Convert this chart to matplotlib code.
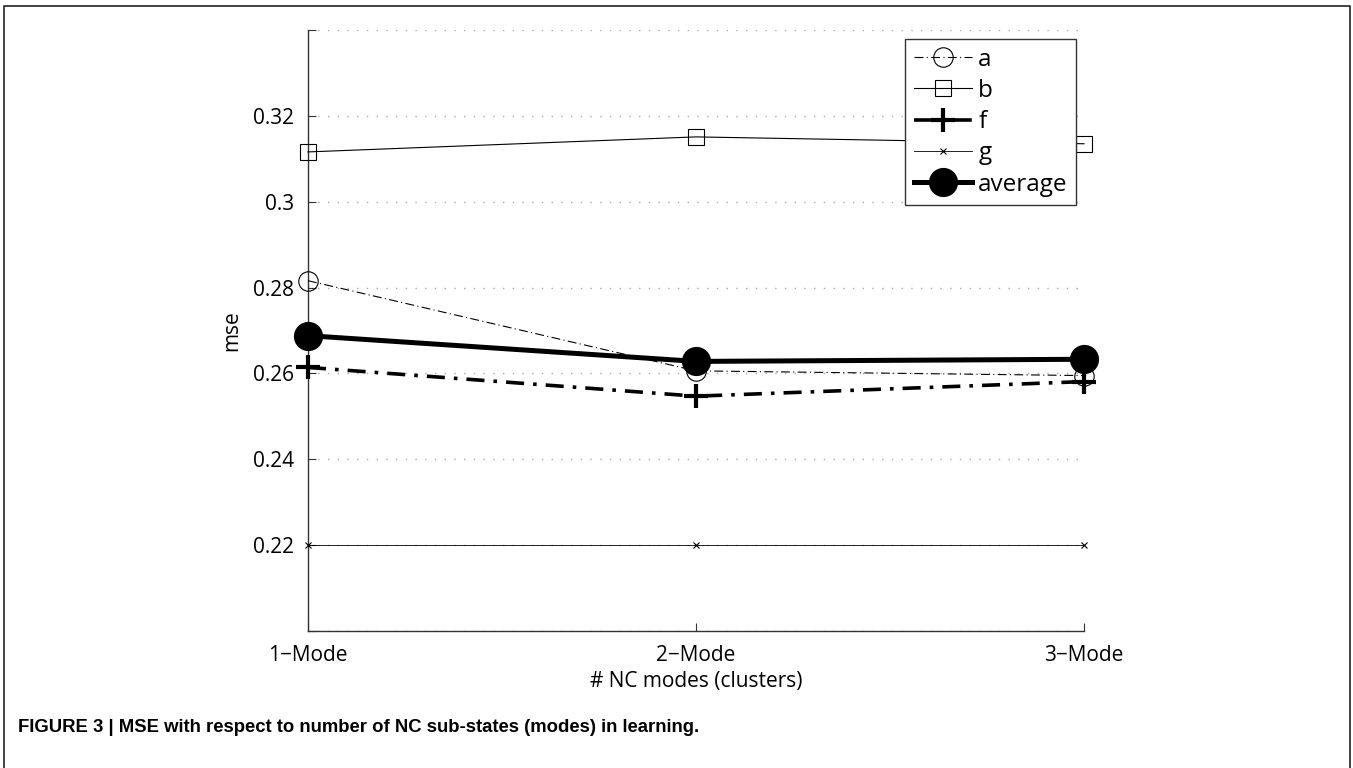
import matplotlib
matplotlib.use("Agg")
import matplotlib.pyplot as plt
from matplotlib.lines import Line2D

categories = ["1\u2212Mode", "2\u2212Mode", "3\u2212Mode"]
a_vals = [0.2816, 0.2606, 0.2595]
b_vals = [0.3116, 0.3151, 0.3135]
f_vals = [0.2614, 0.2547, 0.2581]
g_vals = [0.2201, 0.2201, 0.2201]
avg_vals = [0.2688, 0.2628, 0.2633]
ytick_vals = [0.20, 0.22, 0.24, 0.26, 0.28, 0.30, 0.32, 0.34]
ytick_labels = ["", "0.22", "0.24", "0.26", "0.28", "0.3", "0.32", ""]

plt.rcParams['font.family'] = ['Open Sans', 'DejaVu Sans']

fig = plt.figure(figsize=(13.53, 7.68), dpi=100)
ax = fig.add_axes([308/1353, 1-631/768, (1084-308)/1353, (631-30)/768])

x = [1, 2, 3]
ax.plot(x, a_vals, color='black', lw=0.8, ls=(0, (8, 3, 1, 3)), marker='o', ms=14,
        mfc='none', mec='black', mew=0.8, label='a', clip_on=False, zorder=3)
ax.plot(x, b_vals, color='black', lw=0.8, ls='-', marker='s', ms=12,
        mfc='none', mec='black', mew=0.8, label='b', clip_on=False, zorder=3)
ax.plot(x, f_vals, color='black', lw=2.6, ls=(0, (5, 2.5, 1, 2.5)), marker='+', ms=17,
        mew=3, label='f', clip_on=False, zorder=3)
ax.plot(x, g_vals, color='black', lw=0.6, ls='-', marker='x', ms=5, mew=0.8, label='g',
        clip_on=False, zorder=3)
ax.plot(x, avg_vals, color='black', lw=3.6, ls='-', marker='o', ms=20,
        mfc='black', mec='black', label='average', clip_on=False, zorder=3)

ax.set_xlim(1, 3)
ax.set_ylim(0.2, 0.34)
ax.set_xticks(x)
ax.set_xticklabels(categories, fontsize=15)
ax.set_yticks(ytick_vals)
ax.set_yticklabels(ytick_labels, fontsize=15)
ax.tick_params(direction='in', length=6, width=0.8, color='#333333', pad=10)
for t in ytick_vals:
    ax.axhline(t, color='#aaaaaa', lw=1.0, ls=(0, (1, 6)), zorder=0)
ax.spines['top'].set_visible(False)
ax.spines['right'].set_visible(False)
for s in ['left', 'bottom']:
    ax.spines[s].set_color('#333333')
    ax.spines[s].set_linewidth(1.0)

ax.set_xlabel("# NC modes (clusters)", fontsize=15, labelpad=4)
ax.set_ylabel("mse", fontsize=15, labelpad=8)

leg = ax.legend(loc='upper right', bbox_to_anchor=(0.99, 0.985), fontsize=17.5,
                frameon=True, fancybox=False, framealpha=1, edgecolor='#333333',
                handlelength=2.4, handletextpad=0.25, labelspacing=0.3,
                borderpad=0.35, borderaxespad=0)
leg.get_frame().set_linewidth(1.0)
leg.set_zorder(5)

fig.text(18/1353, 1-727/768, "FIGURE 3 | MSE with respect to number of NC sub-states (modes) in learning.",
         fontsize=13.3, fontweight='bold', family=['Liberation Sans Narrow', 'Liberation Sans', 'DejaVu Sans'],
         va='center', ha='left')

# outer frame (open at bottom)
fx0, fx1, fy1 = 4/1353, 1350/1353, 1-6/768
fig.add_artist(Line2D([fx0, fx0, fx1, fx1], [0, fy1, fy1, 0], transform=fig.transFigure,
                      color='#222222', lw=1.2))

fig.savefig("out.png", dpi=100)
